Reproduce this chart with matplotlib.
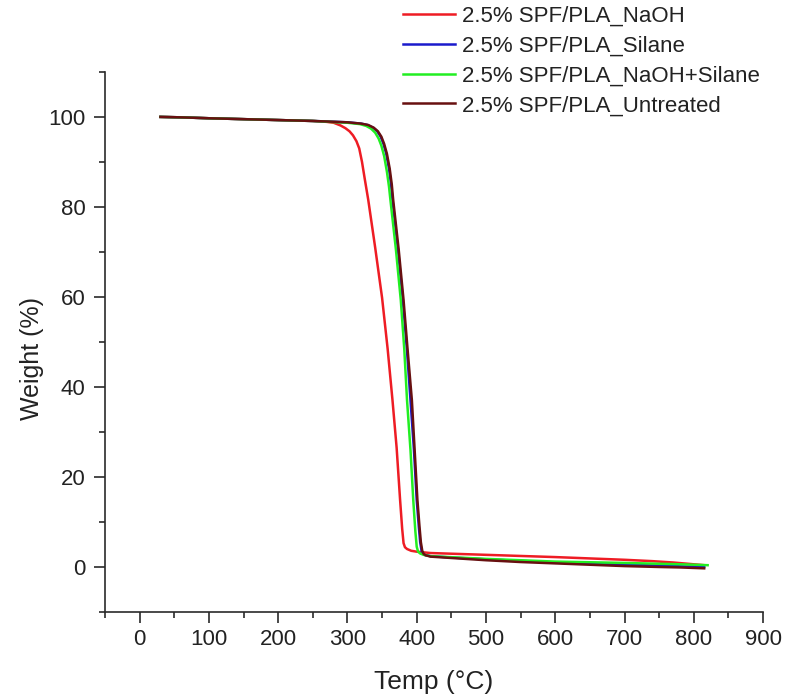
import matplotlib
matplotlib.use("Agg")
import matplotlib.pyplot as plt
from matplotlib.ticker import MultipleLocator

plt.rcParams["font.family"] = ["Liberation Sans", "DejaVu Sans"]

# ── Data ─────────────────────────────────────────────────────────────────────

naoh_t = [30, 60, 100, 150, 200, 250, 270, 280, 290, 297, 303, 308, 313, 317,
          321, 325, 330, 340, 350, 358, 365, 371, 376, 379, 381, 383, 386, 392,
          400, 420, 460, 500, 550, 600, 650, 700, 740, 770, 800, 815]
naoh_w = [100, 99.9, 99.7, 99.5, 99.3, 99.1, 98.9, 98.7, 98.1, 97.5, 96.8, 95.9,
          94.6, 93.0, 90.0, 86.2, 81.6, 71.0, 59.8, 48.5, 37.1, 26.5, 14.9, 8.5,
          5.3, 4.4, 4.0, 3.6, 3.4, 3.1, 2.9, 2.7, 2.45, 2.2, 1.9, 1.6, 1.3, 1.0,
          0.6, 0.4]

silane_t = [30, 60, 100, 150, 200, 250, 300, 320, 329, 337, 343, 348, 352, 356,
            360, 363, 365, 373, 380, 386, 391, 396, 400, 403, 405, 407, 409, 412,
            420, 450, 500, 550, 600, 650, 700, 750, 780, 815]
silane_w = [100, 99.9, 99.7, 99.5, 99.3, 99.1, 98.8, 98.5, 98.2, 97.6, 96.8, 95.6,
            94.0, 91.8, 88.5, 85.0, 81.6, 70.5, 59.3, 48.0, 37.1, 26.0, 14.9, 9.0,
            5.5, 3.6, 2.9, 2.65, 2.4, 2.1, 1.7, 1.35, 1.0, 0.75, 0.5, 0.3, 0.15,
            0.0]

combo_t = [30, 60, 100, 150, 200, 250, 300, 318, 327, 334, 340, 345, 349, 353,
           357, 360, 362, 370, 377, 382, 386, 391, 395, 398, 400, 402, 405, 410,
           420, 460, 500, 550, 600, 650, 700, 740, 780, 820]
combo_w = [100, 99.9, 99.7, 99.5, 99.3, 99.1, 98.7, 98.4, 98.0, 97.4, 96.5, 95.2,
           93.6, 91.3, 87.8, 84.5, 81.6, 70.5, 59.3, 48.5, 37.1, 26.0, 14.9, 8.0,
           4.5, 3.4, 3.0, 2.7, 2.4, 2.1, 1.8, 1.5, 1.2, 1.05, 0.9, 0.75, 0.6, 0.4]

untreated_t = [30, 60, 100, 150, 200, 250, 300, 320, 330, 338, 344, 349, 353,
               357, 361, 364, 366, 374, 381, 387, 393, 397, 401, 404, 406, 408,
               410, 413, 420, 450, 500, 550, 600, 650, 700, 750, 780, 815]
untreated_w = [100, 99.9, 99.7, 99.5, 99.3, 99.1, 98.8, 98.5, 98.2, 97.6, 96.8,
               95.6, 94.0, 91.8, 88.5, 85.0, 81.6, 70.5, 59.3, 48.0, 37.1, 26.0,
               14.9, 9.0, 5.5, 3.6, 2.9, 2.6, 2.3, 2.0, 1.5, 1.1, 0.8, 0.5, 0.2,
               0.0, -0.1, -0.3]

labels = ["2.5% SPF/PLA_NaOH", "2.5% SPF/PLA_Silane",
          "2.5% SPF/PLA_NaOH+Silane", "2.5% SPF/PLA_Untreated"]
colors = ["#EE1C24", "#1A1ACC", "#22EE22", "#681010"]

series = [(naoh_t, naoh_w), (silane_t, silane_w),
          (combo_t, combo_w), (untreated_t, untreated_w)]

TEXT = "#222222"
AXIS = "#2a2a2a"

# ── Figure ───────────────────────────────────────────────────────────────────

fig = plt.figure(figsize=(7.98, 6.96), dpi=100, facecolor="white")
ax = fig.add_axes([0.1316, 0.1207, 0.8246, 0.776])

lines = []
for (t, w), c, lab in zip(series, colors, labels):
    ln, = ax.plot(t, w, color=c, linewidth=1.8, label=lab,
                  solid_joinstyle="round")
    lines.append(ln)

ax.set_xlim(-50, 900)
ax.set_ylim(-10, 110)
ax.xaxis.set_minor_locator(MultipleLocator(50))
ax.yaxis.set_minor_locator(MultipleLocator(10))
ax.set_xticks(range(0, 901, 100))
ax.set_yticks(range(0, 101, 20))

for side in ("top", "right"):
    ax.spines[side].set_visible(False)
for side in ("left", "bottom"):
    ax.spines[side].set_color(AXIS)
    ax.spines[side].set_linewidth(1.2)

ax.tick_params(which="major", direction="out", length=8, width=1.2,
               color=AXIS, labelsize=16, labelcolor=TEXT)
ax.tick_params(which="minor", direction="out", length=4.5, width=1.2,
               color=AXIS)
ax.tick_params(axis="x", which="major", pad=4)
ax.tick_params(axis="y", which="major", pad=6)

ax.set_xlabel("Temp (°C)", fontsize=19, color=TEXT)
ax.set_ylabel("Weight (%)", fontsize=18, color=TEXT)
ax.xaxis.set_label_coords(0.5, -0.107)
ax.yaxis.set_label_coords(-0.093, 0.47)

fig.legend(handles=lines, loc="upper left", bbox_to_anchor=(0.505, 0.992),
           frameon=False, fontsize=16, labelcolor=TEXT, borderpad=0,
           borderaxespad=0, labelspacing=0.4, handlelength=2.35,
           handletextpad=0.3)

fig.savefig("out.png", dpi=100, facecolor="white")
